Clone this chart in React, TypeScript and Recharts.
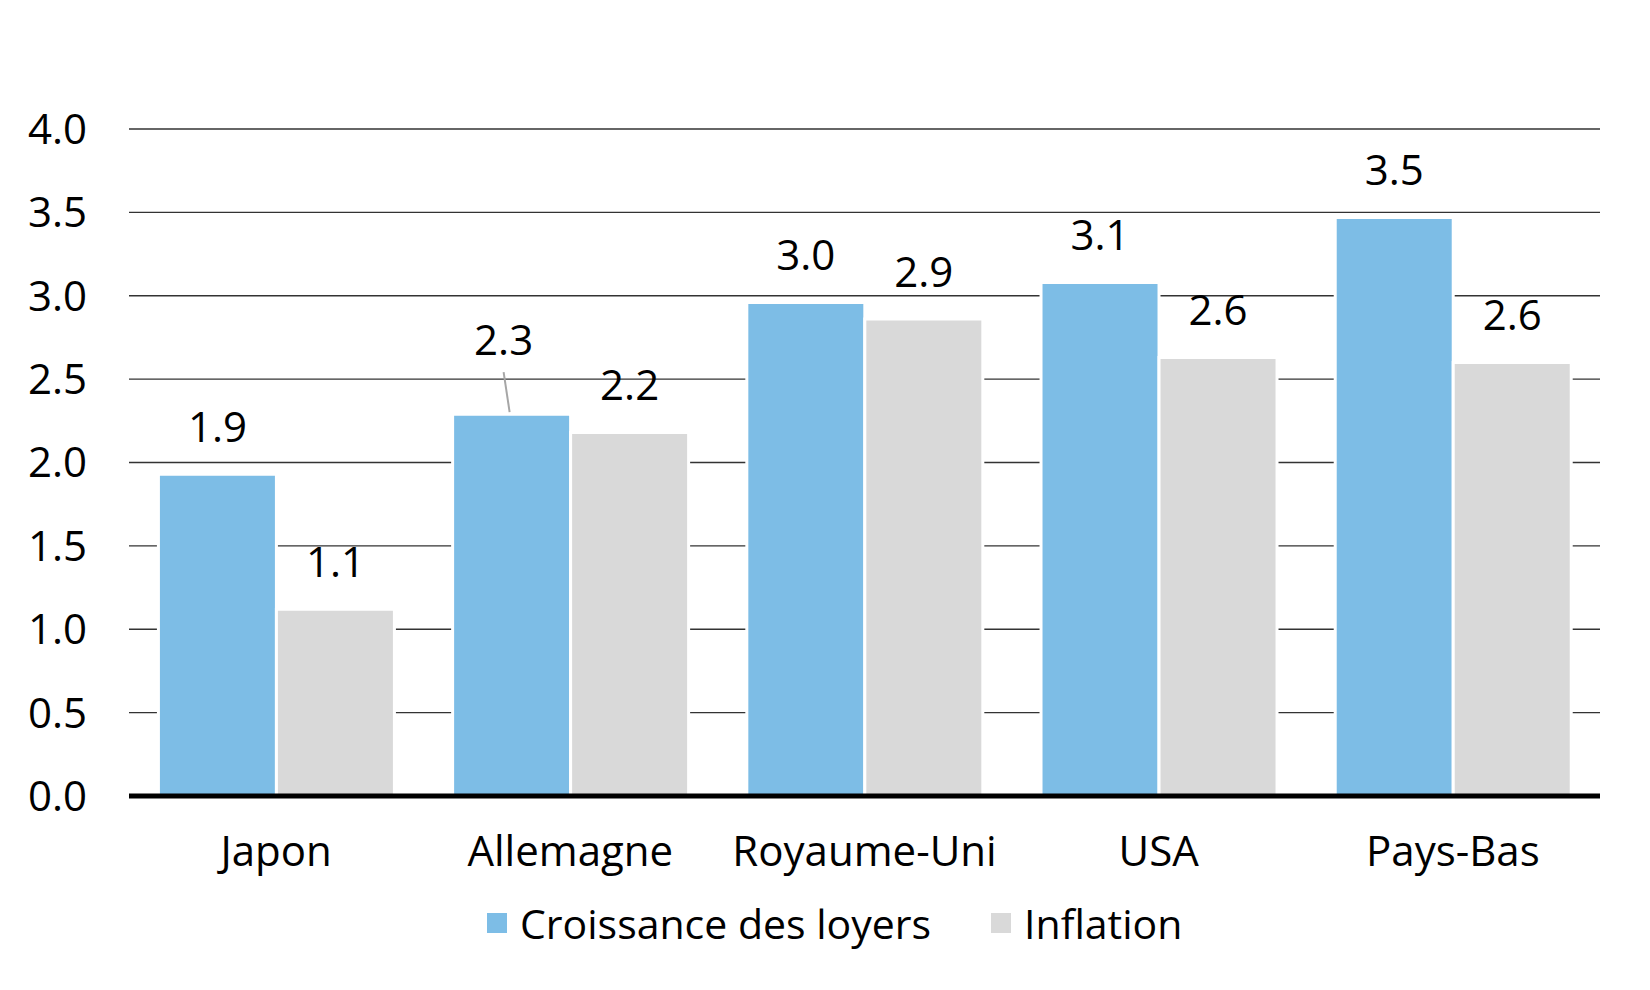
import React from 'react';
import {
  BarChart,
  Bar,
  XAxis,
  YAxis,
  CartesianGrid,
  Legend,
  LabelList,
  ReferenceLine,
} from 'recharts';

const categories = ['Japon', 'Allemagne', 'Royaume-Uni', 'USA', 'Pays-Bas'];
const rentGrowth = [1.93, 2.29, 2.96, 3.08, 3.47];
const inflation = [1.12, 2.18, 2.86, 2.63, 2.6];
const yTicks = [0, 0.5, 1, 1.5, 2, 2.5, 3, 3.5, 4];
const seriesNames = ['Croissance des loyers', 'Inflation'];
const seriesColors = ['#7dbde6', '#d9d9d9'];

const data = categories.map((c, i) => ({ name: c, rent: rentGrowth[i], infl: inflation[i] }));

const FONT = '"Open Sans", "DejaVu Sans", sans-serif';
const FS = 42;
const LIFTED_LABEL = 'Allemagne';

const makeLabel = (series: 'rent' | 'infl') => (props: any) => {
  const { x, y, width, value, index } = props;
  const cx = Number(x) + Number(width) / 2;
  const yy = Number(y);
  const txt = Number(value).toFixed(1);
  if (series === 'rent' && categories[index] === LIFTED_LABEL) {
    const lx = cx - 8;
    const by = yy - 59;
    return (
      <g>
        <line x1={lx} y1={by + 17} x2={cx - 2} y2={yy - 2} stroke="#a6a6a6" strokeWidth={2} />
        <text x={lx} y={by} textAnchor="middle" fontFamily={FONT} fontSize={FS} fill="#000">
          {txt}
        </text>
      </g>
    );
  }
  return (
    <text x={cx} y={yy - 32} textAnchor="middle" fontFamily={FONT} fontSize={FS} fill="#000">
      {txt}
    </text>
  );
};

const LegendContent = () => (
  <div
    style={{
      display: 'flex',
      alignItems: 'center',
      height: 40,
      paddingLeft: 487,
      fontFamily: FONT,
      fontSize: 41,
      color: '#000',
      boxSizing: 'border-box',
    }}
  >
    {seriesNames.map((n, i) => (
      <div key={n} style={{ display: 'flex', alignItems: 'center', marginRight: 60 }}>
        <div style={{ width: 20, height: 20, background: seriesColors[i], marginRight: 13 }} />
        <span style={{ lineHeight: 1, whiteSpace: 'nowrap' }}>{n}</span>
      </div>
    ))}
  </div>
);

export default function App() {
  return (
    <div style={{ marginLeft: -8, marginTop: -8, width: 1650, height: 982, background: '#fff' }}>
      <BarChart
        width={1650}
        height={982}
        data={data}
        margin={{ top: 129, right: 50, left: 0, bottom: 39 }}
        barCategoryGap="10%"
        barGap={0}
      >
        <CartesianGrid vertical={false} stroke="#333" strokeWidth={1.3} />
        <XAxis
          dataKey="name"
          axisLine={false}
          tickLine={false}
          tickSize={0}
          tickMargin={40}
          height={107}
          interval={0}
          tick={{ fontFamily: FONT, fontSize: FS, fill: '#000' }}
        />
        <YAxis
          domain={[0, 4]}
          ticks={yTicks}
          width={129}
          axisLine={false}
          tickLine={false}
          tickSize={0}
          tickMargin={42}
          tickFormatter={(v: number) => v.toFixed(1)}
          tick={{ fontFamily: FONT, fontSize: FS, fill: '#000' }}
        />
        <Bar dataKey="rent" name={seriesNames[0]} fill={seriesColors[0]} stroke="#fff" strokeWidth={3} isAnimationActive={false}>
          <LabelList dataKey="rent" content={makeLabel('rent')} />
        </Bar>
        <Bar dataKey="infl" name={seriesNames[1]} fill={seriesColors[1]} stroke="#fff" strokeWidth={3} isAnimationActive={false}>
          <LabelList dataKey="infl" content={makeLabel('infl')} />
        </Bar>
        <ReferenceLine y={0} stroke="#000" strokeWidth={5} />
        <Legend
          verticalAlign="bottom"
          align="left"
          wrapperStyle={{ left: 0, width: 1650, height: 40 }}
          content={LegendContent}
        />
      </BarChart>
    </div>
  );
}
